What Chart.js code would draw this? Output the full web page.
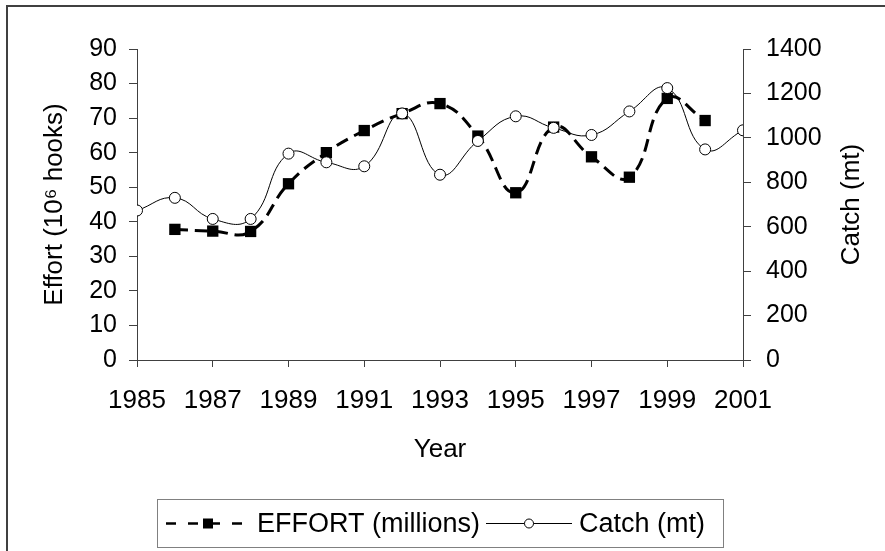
<!DOCTYPE html>
<html>
<head>
<meta charset="utf-8">
<script src="https://cdn.jsdelivr.net/npm/chart.js@4.4.1/dist/chart.umd.min.js"></script>
<style>
html,body{margin:0;padding:0;background:#fff;}
#wrap{position:relative;width:885px;height:551px;overflow:hidden;}
canvas{display:block;}
</style>
</head>
<body>
<div id="wrap"><canvas id="c" width="885" height="551"></canvas></div>
<script>
// ---- data ----
const effortYears  = [1986, 1987, 1988, 1989, 1990, 1991, 1992, 1993, 1994, 1995, 1996, 1997, 1998, 1999, 2000];
const effortValues = [37.8, 37.3, 37.2, 51.0, 60.0, 66.4, 71.3, 74.2, 64.8, 48.4, 67.4, 58.8, 52.9, 75.7, 69.3];
const catchYears   = [1985, 1986, 1987, 1988, 1989, 1990, 1991, 1992, 1993, 1994, 1995, 1996, 1997, 1998, 1999, 2000, 2001];
const catchValues  = [673, 730, 635, 635, 929, 890, 872, 1110, 834, 986, 1097, 1045, 1013, 1119, 1224, 948, 1034];
const xTickYears   = [1985, 1987, 1989, 1991, 1993, 1995, 1997, 1999, 2001];
const effortLabel  = 'EFFORT (millions)';
const catchLabel   = 'Catch (mt)';
const leftTitle    = 'Effort (10\u2076 hooks)';
const rightTitle   = 'Catch (mt)';
const xTitle       = 'Year';

const FONT = '"Liberation Sans", Arial, Helvetica, sans-serif';
const AXIS = '#404040';

const effortPts = effortYears.map((x, i) => ({x, y: effortValues[i]}));
const catchPts  = catchYears.map((x, i) => ({x, y: catchValues[i]}));

const decor = {
  id: 'decor',
  afterDraw(chart) {
    const ctx = chart.ctx;
    ctx.save();
    // outer frame (top + left visible)
    ctx.strokeStyle = '#404040';
    ctx.lineWidth = 2;
    ctx.strokeRect(7, 6, 1000, 700);

    // right-axis title, reading bottom to top
    const ca = chart.chartArea;
    ctx.fillStyle = '#000';
    ctx.font = '26px ' + FONT;
    ctx.textAlign = 'center';
    ctx.textBaseline = 'middle';
    ctx.translate(852, (ca.top + ca.bottom) / 2);
    ctx.rotate(-Math.PI / 2);
    ctx.fillText(rightTitle, 0, 0);
    ctx.restore();

    // legend box
    ctx.save();
    ctx.strokeStyle = '#808080';
    ctx.lineWidth = 1;
    ctx.strokeRect(157.5, 499.5, 566, 48);
    const ly = 523.5;
    // effort sample
    ctx.strokeStyle = '#000';
    ctx.lineWidth = 2.5;
    ctx.setLineDash([10, 12]);
    ctx.beginPath(); ctx.moveTo(166, ly); ctx.lineTo(250, ly); ctx.stroke();
    ctx.setLineDash([]);
    ctx.fillStyle = '#000';
    ctx.fillRect(208 - 5, ly - 5, 10, 10);
    ctx.font = '27px ' + FONT;
    ctx.textAlign = 'left';
    ctx.textBaseline = 'middle';
    ctx.fillText(effortLabel, 257, ly + 1);
    const w1 = ctx.measureText(effortLabel).width;
    // catch sample
    const x2 = 257 + w1 + 6;
    ctx.lineWidth = 1;
    ctx.beginPath(); ctx.moveTo(x2, ly); ctx.lineTo(x2 + 86, ly); ctx.stroke();
    ctx.beginPath(); ctx.arc(x2 + 43, ly, 4.5, 0, Math.PI * 2);
    ctx.fillStyle = '#fff'; ctx.fill(); ctx.stroke();
    ctx.fillStyle = '#000';
    ctx.fillText(catchLabel, x2 + 93, ly + 1);
    ctx.restore();
  }
};

new Chart(document.getElementById('c'), {
  type: 'line',
  data: {
    datasets: [
      {
        label: effortLabel,
        data: effortPts,
        yAxisID: 'y',
        borderColor: '#000',
        borderWidth: 3,
        borderDash: [13, 7],
        tension: 0.45,
        pointStyle: 'rect',
        pointRadius: 8,
        pointBackgroundColor: '#000',
        pointBorderColor: '#000',
        pointBorderWidth: 0,
        order: 2
      },
      {
        label: catchLabel,
        data: catchPts,
        yAxisID: 'y1',
        borderColor: '#000',
        borderWidth: 1,
        tension: 0.45,
        pointStyle: 'circle',
        pointRadius: 5.5,
        pointBackgroundColor: '#fff',
        pointBorderColor: '#000',
        pointBorderWidth: 1,
        order: 1
      }
    ]
  },
  options: {
    responsive: false,
    animation: false,
    devicePixelRatio: 1,
    layout: { padding: { top: 49, left: 0, right: 0, bottom: 0 } },
    plugins: { legend: { display: false }, tooltip: { enabled: false } },
    scales: {
      x: {
        type: 'linear',
        min: 1985, max: 2001,
        afterFit: s => { s.height = 191; },
        afterBuildTicks: s => { s.ticks = xTickYears.map(v => ({value: v})); },
        grid: { drawOnChartArea: false, drawTicks: true, tickLength: 7, color: AXIS, lineWidth: 1 },
        border: { display: true, color: AXIS, width: 1 },
        ticks: { color: '#000', font: { family: FONT, size: 26 }, padding: 18, maxRotation: 0, autoSkip: false,
                 callback: v => String(v) },
        title: { display: true, text: xTitle, color: '#000', font: { family: FONT, size: 26 }, padding: { top: 0, bottom: 86 } }
      },
      y: {
        position: 'left',
        min: 0, max: 90,
        afterFit: s => { s.width = 137; },
        grid: { drawOnChartArea: false, drawTicks: true, tickLength: 8, color: AXIS },
        border: { display: true, color: AXIS, width: 1 },
        ticks: { stepSize: 10, color: '#000', font: { family: FONT, size: 25 }, padding: 12 },
        title: { display: true, text: leftTitle, color: '#000', font: { family: FONT, size: 26 }, padding: { top: 39, bottom: 0 } }
      },
      y1: {
        position: 'right',
        min: 0, max: 1400,
        afterFit: s => { s.width = 142; },
        grid: { drawOnChartArea: false, drawTicks: true, tickLength: 8, color: AXIS },
        border: { display: true, color: AXIS, width: 1 },
        ticks: { stepSize: 200, color: '#000', font: { family: FONT, size: 25 }, padding: 15, callback: v => String(v) },
        title: { display: false }
      }
    }
  },
  plugins: [decor]
});
</script>
</body>
</html>
